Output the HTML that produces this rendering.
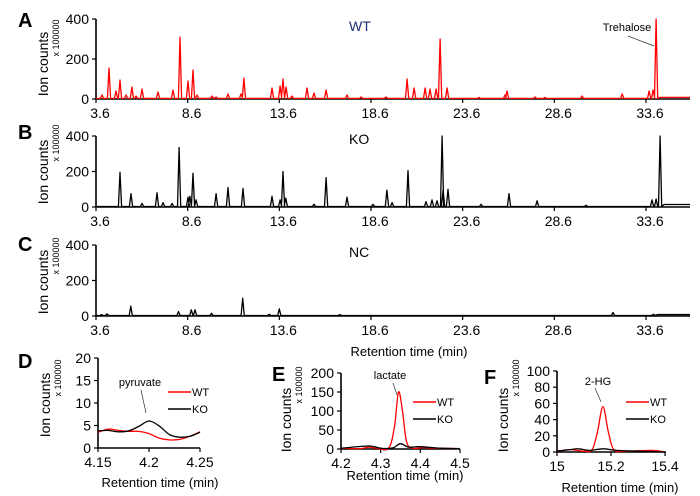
<!DOCTYPE html>
<html><head><meta charset="utf-8"><style>
body{margin:0;background:#fff}
svg{display:block;font-family:"Liberation Sans",Arial,sans-serif}
</style></head><body>
<svg id="c" width="700" height="496"></svg>
<script>
// ---- data ----
const tA=[3.93,4.31,4.69,4.91,5.24,5.56,5.78,6.11,6.98,7.80,8.18,8.62,8.89,9.11,9.93,10.15,10.80,11.51,11.67,13.20,13.64,13.80,13.97,14.29,15.11,15.49,16.15,17.29,18.06,19.42,20.57,20.95,21.55,21.82,22.15,22.37,22.75,24.49,25.91,26.02,27.55,28.09,30.11,32.30,33.77,33.99,34.15];
const vA=[20,155,40,95,20,60,15,50,35,45,310,90,145,20,15,10,25,25,105,55,65,100,60,15,55,30,45,20,10,10,100,55,55,50,50,300,55,8,20,40,10,8,15,25,40,45,400];
const tB=[4.91,5.51,6.11,6.93,7.26,7.75,8.13,8.62,8.72,8.89,9.06,10.15,10.80,11.62,13.20,13.64,13.80,13.95,15.49,16.15,17.29,18.71,19.47,19.75,20.62,21.60,21.93,22.20,22.48,22.53,22.80,24.60,26.13,27.66,30.33,33.93,34.15,34.37];
const vB=[195,75,20,80,25,20,335,55,60,190,40,75,110,105,60,40,200,50,15,165,55,15,95,25,205,30,40,35,400,95,100,15,75,35,10,40,45,400];
const tC=[3.9,4.2,5.5,8.1,8.8,9.0,9.9,11.6,13.05,13.6,16.9,31.8,34.0];
const vC=[8,12,55,25,35,35,15,100,10,40,8,20,10];
const xTicksMain=[3.6,8.6,13.6,18.6,23.6,28.6,33.6];
const yTicksMain=[0,200,400];
const tD=[4.15,4.16,4.17,4.18,4.19,4.20,4.21,4.22,4.23,4.24,4.25];
const wtD=[3.5,4.2,3.9,3.7,3.7,3.2,2.2,1.8,1.9,2.6,3.6];
const koD=[3.8,3.9,3.6,3.8,4.8,6.0,4.9,3.0,2.4,2.6,3.5];
const tEw=[4.2,4.25,4.27,4.29,4.32,4.335,4.345,4.355,4.365,4.38,4.41,4.43,4.5];
const wtE=[2,1,5,2,2,60,150,100,20,2,4,2,1];
const tEk=[4.2,4.27,4.30,4.33,4.35,4.37,4.40,4.45,4.5];
const koE=[2,8,2,3,14,5,6,2,1];
const tFw=[15,15.05,15.1,15.13,15.15,15.17,15.19,15.21,15.25,15.35,15.4];
const wtF=[1,3,1,3,25,56,25,3,1,2,0];
const tFk=[15,15.05,15.08,15.12,15.17,15.22,15.3,15.4];
const koF=[1,3,4,2,4,2,1,0];

const svg=document.getElementById('c');
const NS='http://www.w3.org/2000/svg';
function el(tag,attrs,txt){const e=document.createElementNS(NS,tag);for(const k in attrs)e.setAttribute(k,attrs[k]);if(txt!==undefined)e.textContent=txt;svg.appendChild(e);return e;}
function lin(d0,d1,r0,r1){return v=>r0+(v-d0)*(r1-r0)/(d1-d0);}

function axes(p,name){
  const ax=el('path',{d:`M${p.x0} ${p.yTop}V${p.y0}H${p.x1}`,stroke:'#000','stroke-width':1.6,fill:'none'});
  
  
  p.yt.forEach(v=>{const y=p.Y(v);
    el('line',{x1:p.x0-4,x2:p.x0,y1:y,y2:y,stroke:'#000','stroke-width':1.2});
    const t=el('text',{x:p.x0-7,y:y+5,'text-anchor':'end','font-size':14},v);
    
    
  });
  p.xt.forEach(v=>{const x=p.X(v);
    el('line',{x1:x,x2:x,y1:p.y0,y2:p.y0+4,stroke:'#000','stroke-width':1.2});
    const t=el('text',{x:x+(p.dx||0),y:p.y0+19,'text-anchor':'middle','font-size':14},v);
    
    
  });
}
function ylabel(x,y,name){
  const t=el('text',{x:0,y:0,transform:`translate(${x},${y}) rotate(-90)`,'text-anchor':'middle','font-size':14},'Ion counts');
  
  
}
function ysub(x,y,name){
  const t=el('text',{x:0,y:0,transform:`translate(${x},${y}) rotate(-90)`,'text-anchor':'middle','font-size':9},'x 100000');
  
  
}
function letter(x,y,s){
  const t=el('text',{x:x,y:y,'font-size':20,'font-weight':'bold'},s);
  
  
}
function peaks(p,ts,vs,color,base,name,endBase){
  const order=ts.map((t,i)=>i).sort((a,b)=>ts[a]-ts[b]);
  let d=`M${p.x0} ${p.Y(base)}`;
  order.forEach(i=>{const x=p.X(ts[i]);
    d+=`L${(x-1.6).toFixed(1)} ${p.Y(base)}L${x.toFixed(1)} ${p.Y(vs[i]).toFixed(1)}L${(x+1.6).toFixed(1)} ${p.Y(base)}`;});
  d+=`L${p.X(ts[order[order.length-1]])+4} ${p.Y(endBase)}L${p.x1} ${p.Y(endBase)}`;
  const e=el('path',{d:d,stroke:color,'stroke-width':1.3,fill:'none','stroke-linejoin':'round'});
  
  
}
function curve(p,ts,vs,color,name){
  const pts=ts.map((t,i)=>[p.X(t),p.Y(vs[i])]);
  let d=`M${pts[0][0]} ${pts[0][1]}`;
  for(let i=0;i<pts.length-1;i++){
    const p0=pts[Math.max(0,i-1)],p1=pts[i],p2=pts[i+1],p3=pts[Math.min(pts.length-1,i+2)];
    const c1=[p1[0]+(p2[0]-p0[0])/6,p1[1]+(p2[1]-p0[1])/6],c2=[p2[0]-(p3[0]-p1[0])/6,p2[1]-(p3[1]-p1[1])/6];
    d+=`C${c1[0].toFixed(1)} ${c1[1].toFixed(1)} ${c2[0].toFixed(1)} ${c2[1].toFixed(1)} ${p2[0].toFixed(1)} ${p2[1].toFixed(1)}`;
  }
  const e=el('path',{d:d,stroke:color,'stroke-width':1.3,fill:'none'});
  
  
}
function legend(x,y,name){
  [['WT','#f00',0],['KO','#000',17]].forEach(([s,c,o])=>{
    const l=el('line',{x1:x,x2:x+23,y1:y+o,y2:y+o,stroke:c,'stroke-width':1.5});
    
    
    const t=el('text',{x:x+24,y:y+o+4,'font-size':11},s);
    
    
  });
}
function annot(tx,ty,x1,y1,x2,y2,s,name){
  const t=el('text',{x:tx,y:ty,'text-anchor':'middle','font-size':11},s);
  
  
  const l=el('line',{x1:x1,y1:y1,x2:x2,y2:y2,stroke:'#333','stroke-width':0.7});
  
  
}
function title(x,y,s,color,name){
  const t=el('text',{x:x,y:y,'font-size':14,fill:color},s);
  
  
}

const mk=(y0,yTop)=>({x0:96,x1:690,y0:y0,yTop:yTop,X:lin(3.6,33.6,96,646),Y:lin(0,400,y0,yTop),xt:xTicksMain,yt:yTicksMain,dx:4});
const pA=mk(99,19), pB=mk(207,136), pC=mk(316,245);
axes(pA,'panel-a');peaks(pA,tA,vA,'#f00',3,'wt-chromatogram',8);
letter(18,27,'A');ylabel(48,64,'panel-a');ysub(59,38,'panel-a');title(349,31,'WT','#1f2f7a','panel-a-title');
annot(627,31,628,36,654,46,'Trehalose','trehalose-label');
axes(pB,'panel-b');peaks(pB,tB,vB,'#000',3,'ko-chromatogram',14);
letter(18,139,'B');ylabel(48,172,'panel-b');ysub(59,143,'panel-b');title(349,144,'KO','#000','panel-b-title');
axes(pC,'panel-c');peaks(pC,tC,vC,'#000',3,'nc-chromatogram',8);
letter(18,251,'C');ylabel(48,282,'panel-c');ysub(59,256,'panel-c');title(349,257,'NC','#000','panel-c-title');
const xt=el('text',{x:409,y:356,'text-anchor':'middle','font-size':13},'Retention time (min)');



const pD={x0:98,x1:200,y0:448,yTop:358,X:lin(4.15,4.25,98,200),Y:lin(0,20,448,358),xt:[4.15,4.2,4.25],yt:[0,5,10,15,20]};
axes(pD,'panel-d');curve(pD,tD,wtD,'#f00','pyruvate-wt-line');curve(pD,tD,koD,'#000','pyruvate-ko-line');
letter(18,368,'D');ylabel(50,405,'panel-d');ysub(61,378,'panel-d');
legend(168,392,'panel-d');annot(140,386,141,390,146,413,'pyruvate','pyruvate-label');
const xd=el('text',{x:160,y:487,'text-anchor':'middle','font-size':13},'Retention time (min)');



const pE={x0:341,x1:460,y0:449,yTop:373,X:lin(4.2,4.5,341,460),Y:lin(0,200,449,373),xt:[4.2,4.3,4.4,4.5],yt:[0,50,100,150,200]};
axes(pE,'panel-e');curve(pE,tEw,wtE,'#f00','lactate-wt-line');curve(pE,tEk,koE,'#000','lactate-ko-line');
letter(272,381,'E');ylabel(291,420,'panel-e');ysub(302,385,'panel-e');
legend(413,402,'panel-e');annot(390,379,393,383,397,395,'lactate','lactate-label');
const xe=el('text',{x:405,y:480,'text-anchor':'middle','font-size':13},'Retention time (min)');



const pF={x0:557,x1:666,y0:452,yTop:371,X:lin(15,15.4,557,665),Y:lin(0,100,452,371),xt:[15,15.2,15.4],yt:[0,20,40,60,80,100]};
axes(pF,'panel-f');curve(pF,tFw,wtF,'#f00','2hg-wt-line');curve(pF,tFk,koF,'#000','2hg-ko-line');
letter(484,384,'F');ylabel(508,420,'panel-f');ysub(519,378,'panel-f');
legend(626,402,'panel-f');annot(598,385,595,388,601,402,'2-HG','2hg-label');
const xf=el('text',{x:620,y:492,'text-anchor':'middle','font-size':13},'Retention time (min)');


</script>
</body></html>
